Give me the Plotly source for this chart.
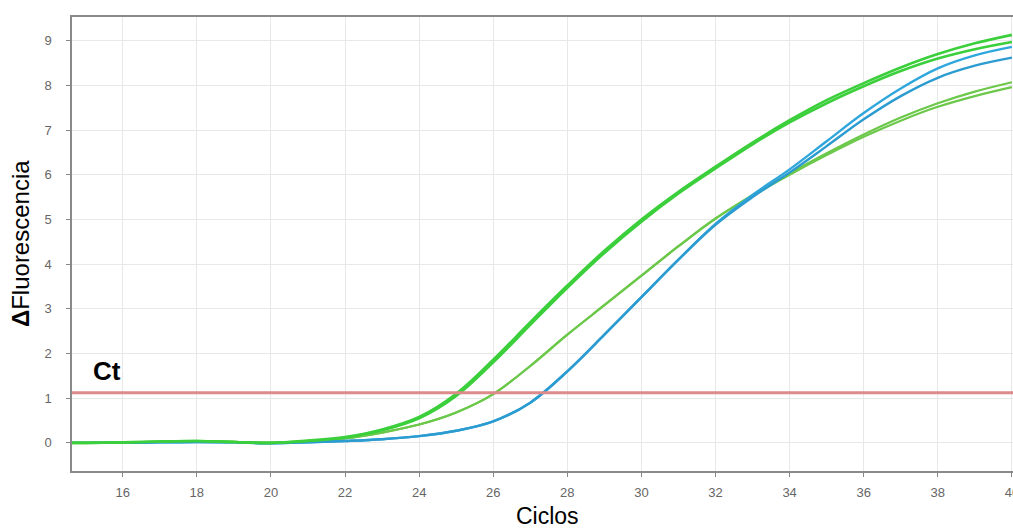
import plotly.graph_objects as go

# ---------------- data ----------------
cycles = list(range(14, 41))

green_hi_1 = [0.00, 0.00, 0.01, 0.03, 0.04, 0.02, 0.00, 0.05, 0.13, 0.30, 0.58, 1.10, 1.86,
              2.70, 3.52, 4.30, 5.00, 5.62, 6.18, 6.72, 7.22, 7.67, 8.05, 8.40, 8.70, 8.94, 9.13]
green_hi_2 = [0.00, 0.00, 0.01, 0.03, 0.04, 0.02, 0.00, 0.04, 0.12, 0.28, 0.55, 1.05, 1.80,
              2.64, 3.47, 4.25, 4.95, 5.58, 6.14, 6.68, 7.17, 7.60, 7.98, 8.32, 8.60, 8.81, 8.97]
green_lo_1 = [0.00, 0.00, 0.01, 0.02, 0.03, 0.02, 0.00, 0.03, 0.10, 0.23, 0.41, 0.68, 1.09,
              1.72, 2.42, 3.08, 3.74, 4.40, 5.02, 5.55, 6.03, 6.48, 6.90, 7.28, 7.60, 7.86, 8.07]
green_lo_2 = [0.00, 0.00, 0.01, 0.02, 0.03, 0.02, 0.00, 0.03, 0.10, 0.23, 0.41, 0.68, 1.09,
              1.72, 2.42, 3.08, 3.74, 4.40, 5.02, 5.53, 6.00, 6.44, 6.85, 7.21, 7.52, 7.76, 7.96]
blue_1 = [0.00, 0.00, 0.00, 0.01, 0.02, 0.01, -0.01, 0.01, 0.04, 0.08, 0.15, 0.27, 0.48,
          0.90, 1.60, 2.42, 3.26, 4.10, 4.90, 5.55, 6.12, 6.75, 7.38, 7.93, 8.38, 8.67, 8.86]
blue_2 = [0.00, 0.00, 0.00, 0.01, 0.02, 0.01, -0.01, 0.01, 0.04, 0.08, 0.15, 0.27, 0.48,
          0.90, 1.60, 2.42, 3.26, 4.10, 4.88, 5.50, 6.05, 6.64, 7.24, 7.76, 8.17, 8.44, 8.62]

ct_threshold = 1.12

x_ticks = list(range(16, 41, 2))
y_ticks = list(range(0, 10))

# ---------------- figure ----------------
fig = go.Figure()

series = [
    (green_lo_1, "#6cc84a", 2.2),
    (green_lo_2, "#6cc84a", 2.2),
    (blue_1, "#2fa6dc", 2.4),
    (blue_2, "#2b9bd0", 2.4),
    (green_hi_2, "#3ccf3c", 2.6),
    (green_hi_1, "#3ccf3c", 2.6),
]
for ys, col, w in series:
    fig.add_trace(go.Scatter(x=cycles, y=ys, mode="lines",
                             line=dict(color=col, width=w, shape="spline", smoothing=1.0),
                             showlegend=False, hoverinfo="skip"))

fig.add_hline(y=ct_threshold, line=dict(color="#dc8a8a", width=3), layer="above")

tick_font = dict(family="Liberation Sans Narrow, Arial Narrow, Arial", size=13, color="#666666")

fig.update_layout(
    width=1013, height=531,
    margin=dict(l=72, r=0, t=17, b=60, autoexpand=False),
    paper_bgcolor="white", plot_bgcolor="white",
    xaxis=dict(range=[14.63, 40.03], tickvals=x_ticks, ticks="outside", ticklen=4,
               tickcolor="#888888", showgrid=True, gridcolor="#e8e8e8", gridwidth=1,
               showline=True, linecolor="#8a8a8a", linewidth=1.5, mirror=True,
               zeroline=False, tickfont=tick_font, ticklabelstandoff=5,
               ticklabeloverflow="allow", automargin=False),
    yaxis=dict(range=[-0.63, 9.53], tickvals=y_ticks, ticks="outside", ticklen=4,
               tickcolor="#888888", showgrid=True, gridcolor="#e8e8e8", gridwidth=1,
               showline=True, linecolor="#8a8a8a", linewidth=1.5,
               zeroline=False, tickfont=tick_font, ticklabelstandoff=12, automargin=False),
    annotations=[
        dict(text="<b>Δ</b>Fluorescencia", xref="paper", yref="paper", x=-0.0553, y=0.502,
             textangle=-90, showarrow=False, xanchor="center", yanchor="middle",
             font=dict(family="Arial", size=24, color="black")),
        dict(text="Ciclos", xref="paper", yref="paper", x=0.505, y=-0.100,
             showarrow=False, xanchor="center", yanchor="middle",
             font=dict(family="Arial", size=23, color="black")),
        dict(text="<b>Ct</b>", xref="paper", yref="paper", x=0.0372, y=0.220,
             showarrow=False, xanchor="center", yanchor="middle",
             font=dict(family="Arial", size=26, color="black")),
    ],
)

fig.write_html("out.html", config={"displayModeBar": False},
               post_script="document.body.style.margin='0';")
